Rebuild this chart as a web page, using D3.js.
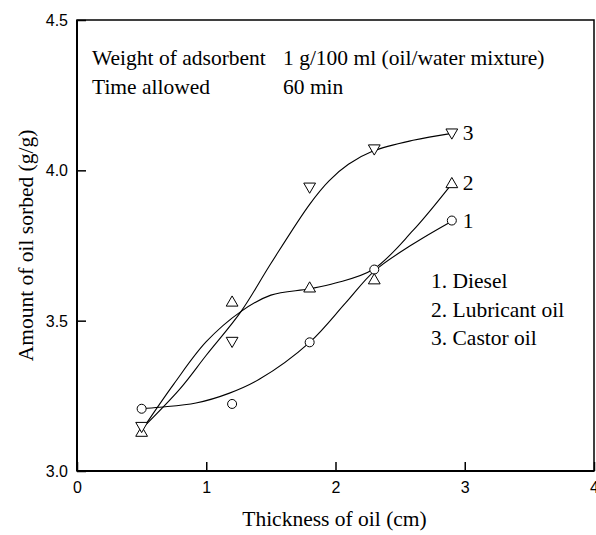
<!DOCTYPE html>
<html><head><meta charset="utf-8">
<script src="https://cdn.jsdelivr.net/npm/d3@7"></script>
<style>body{margin:0;background:#fff}</style>
</head><body>
<svg id="chart" width="596" height="535"></svg>
<script>
// ---- data ----
const xTicks = [0, 1, 2, 3, 4];
const yTicks = [3.0, 3.5, 4.0, 4.5];
const thickness = [0.5, 1.2, 1.8, 2.3, 2.9];
const diesel = [3.207, 3.223, 3.428, 3.670, 3.833];
const lubricant = [3.130, 3.563, 3.610, 3.637, 3.957];
const castor = [3.147, 3.430, 3.943, 4.070, 4.123];
// smoothed fitted curves
const dieselFitX = [0.5, 0.64, 0.92, 1.18, 1.41, 1.8, 2.08, 2.3, 2.6, 2.9];
const dieselFitY = [3.207, 3.212, 3.226, 3.259, 3.305, 3.428, 3.56, 3.665, 3.755, 3.831];
const lubricantFitX = [0.5, 0.75, 1.0, 1.27, 1.5, 1.8, 2.0, 2.29, 2.6, 2.9];
const lubricantFitY = [3.135, 3.29, 3.43, 3.531, 3.585, 3.606, 3.625, 3.67, 3.80, 3.955];
const castorFitX = [0.5, 0.8, 1.0, 1.27, 1.5, 1.8, 1.95, 2.1, 2.29, 2.6, 2.9];
const castorFitY = [3.14, 3.275, 3.385, 3.531, 3.69, 3.887, 3.965, 4.02, 4.064, 4.10, 4.123];
const seriesLabels = ["1", "2", "3"];
const legendItems = ["1. Diesel", "2. Lubricant oil", "3. Castor oil"];
const infoLines = [["Weight of adsorbent", "1 g/100 ml (oil/water mixture)"], ["Time allowed", "60 min"]];

// ---- layout ----
const svg = d3.select("#chart");
const m = {left: 77, top: 20, right: 594, bottom: 471};
const x = d3.scaleLinear().domain([0, 4]).range([m.left, m.right]);
const y = d3.scaleLinear().domain([3.0, 4.5]).range([m.bottom, m.top]);
const serif = "'Liberation Serif','Times New Roman',serif";
const sans = "'Liberation Sans',Arial,sans-serif";
const fs = 21.5;

// frame
svg.append("rect").attr("x", m.left).attr("y", m.top)
  .attr("width", m.right - m.left).attr("height", m.bottom - m.top)
  .attr("fill", "none").attr("stroke", "#000").attr("stroke-width", 1.5);

// axes
const xAxis = svg.append("g").attr("transform", `translate(0,${m.bottom})`)
  .call(d3.axisBottom(x).tickValues(xTicks).tickSize(-9).tickPadding(11).tickFormat(d3.format("d")));
const yAxis = svg.append("g").attr("transform", `translate(${m.left},0)`)
  .call(d3.axisLeft(y).tickValues(yTicks).tickSize(-9).tickPadding(9).tickFormat(d3.format(".1f")));
[xAxis, yAxis].forEach(g => {
  g.select(".domain").attr("stroke-width", 2).attr("stroke", "#000");
  g.selectAll(".tick line").attr("stroke-width", 1.5).attr("stroke", "#000");
  g.selectAll("text").attr("font-family", sans).attr("font-size", 16).attr("fill", "#000");
});
xAxis.select(".domain").attr("d", `M${m.left},0H${m.right}`);
yAxis.select(".domain").attr("d", `M0,${m.bottom}V${m.top}`);
yAxis.selectAll(".tick text").attr("dy", "0.35em");

// axis titles
svg.append("text").attr("x", (m.left + m.right) / 2 - 1).attr("y", 526)
  .attr("text-anchor", "middle").attr("font-family", serif).attr("font-size", fs)
  .text("Thickness of oil (cm)");
svg.append("text").attr("transform", `translate(33,${(m.top + m.bottom) / 2}) rotate(-90)`)
  .attr("text-anchor", "middle").attr("font-family", serif).attr("font-size", fs)
  .text("Amount of oil sorbed (g/g)");

// fitted curves
const line = d3.line().x(d => x(d[0])).y(d => y(d[1])).curve(d3.curveCatmullRom.alpha(0.5));
[[dieselFitX, dieselFitY], [lubricantFitX, lubricantFitY], [castorFitX, castorFitY]].forEach(([fx, fy]) => {
  svg.append("path").datum(d3.zip(fx, fy)).attr("d", line)
    .attr("fill", "none").attr("stroke", "#000").attr("stroke-width", 1.1);
});

// markers
const up = d3.symbol().type(d3.symbolTriangle).size(60);
svg.selectAll(".c").data(d3.zip(thickness, diesel)).join("circle")
  .attr("cx", d => x(d[0])).attr("cy", d => y(d[1])).attr("r", 4.5)
  .attr("fill", "#fff").attr("stroke", "#000").attr("stroke-width", 1);
svg.selectAll(".u").data(d3.zip(thickness, lubricant)).join("path")
  .attr("d", up).attr("transform", d => `translate(${x(d[0])},${y(d[1]) + 1})`)
  .attr("fill", "#fff").attr("stroke", "#000").attr("stroke-width", 1);
svg.selectAll(".dn").data(d3.zip(thickness, castor)).join("path")
  .attr("d", up).attr("transform", d => `translate(${x(d[0])},${y(d[1]) - 1}) rotate(180)`)
  .attr("fill", "#fff").attr("stroke", "#000").attr("stroke-width", 1);

// series end labels
const lastX = thickness[thickness.length - 1];
[diesel, lubricant, castor].forEach((s, i) => {
  svg.append("text").attr("x", x(lastX) + 11).attr("y", y(s[s.length - 1]) + 7)
    .attr("font-family", serif).attr("font-size", fs).text(seriesLabels[i]);
});

// legend
legendItems.forEach((t, i) => {
  svg.append("text").attr("x", 431).attr("y", 288 + i * 28.5)
    .attr("font-family", serif).attr("font-size", fs).text(t);
});

// info text
infoLines.forEach((row, i) => {
  svg.append("text").attr("x", 92).attr("y", 65 + i * 29)
    .attr("font-family", serif).attr("font-size", fs).text(row[0]);
  svg.append("text").attr("x", 283).attr("y", 65 + i * 29)
    .attr("font-family", serif).attr("font-size", fs).text(row[1]);
});
</script>
</body></html>
